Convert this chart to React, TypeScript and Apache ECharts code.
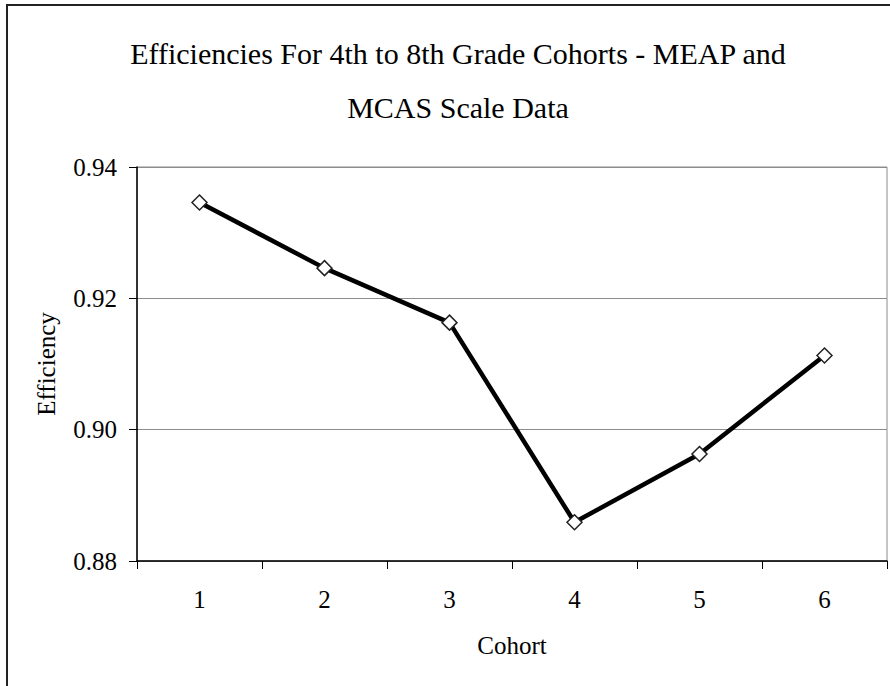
import React, { useEffect, useRef } from "react";
import * as echarts from "echarts";

const titleLines = ["Efficiencies For 4th to 8th Grade Cohorts - MEAP and", "MCAS Scale Data"];
const cohorts = ["1", "2", "3", "4", "5", "6"];
const efficiency = [0.9346, 0.9246, 0.9163, 0.8859, 0.8963, 0.9113];
const yMin = 0.88;
const yMax = 0.94;
const yInterval = 0.02;

const FONT = "'Liberation Serif', 'Times New Roman', serif";

export default function App() {
  const ref = useRef<HTMLDivElement>(null);
  useEffect(() => {
    document.body.style.margin = "0";
    if (!ref.current) return;
    const chart = echarts.init(ref.current, null, { renderer: "svg" });
    chart.setOption({
      animation: false,
      backgroundColor: "#ffffff",
      title: {
        text: titleLines.join("\n"),
        left: 453,
        top: 21,
        textAlign: "center",
        textStyle: {
          fontFamily: FONT,
          fontWeight: "normal",
          fontSize: 30,
          color: "#000",
          lineHeight: 54,
        },
      },
      graphic: [
        {
          type: "rect",
          shape: { x: 7, y: 5, width: 900, height: 700 },
          style: { fill: "none", stroke: "#222", lineWidth: 2 },
          silent: true,
        },
      ],
      grid: {
        left: 137,
        right: 3,
        top: 167,
        bottom: 125,
        show: true,
        borderColor: "#8c8c8c",
        borderWidth: 1,
        backgroundColor: "transparent",
      },
      xAxis: {
        type: "category",
        data: cohorts,
        boundaryGap: true,
        name: "Cohort",
        nameLocation: "middle",
        nameGap: 72,
        nameTextStyle: { fontFamily: FONT, fontSize: 25, color: "#000" },
        axisLine: { show: true, lineStyle: { color: "#000", width: 1.5 } },
        axisTick: { show: true, length: 8, lineStyle: { color: "#000" } },
        axisLabel: { fontFamily: FONT, fontSize: 25, color: "#000", margin: 26 },
        splitLine: { show: false },
      },
      yAxis: {
        type: "value",
        min: yMin,
        max: yMax,
        interval: yInterval,
        name: "Efficiency",
        nameLocation: "middle",
        nameGap: 78,
        nameTextStyle: { fontFamily: FONT, fontSize: 25, color: "#000" },
        axisLine: { show: true, lineStyle: { color: "#000", width: 1.5 } },
        axisTick: { show: true, length: 8, lineStyle: { color: "#000" } },
        axisLabel: {
          fontFamily: FONT,
          fontSize: 25,
          color: "#000",
          margin: 20,
          formatter: (v: number) => v.toFixed(2),
        },
        splitLine: { show: true, lineStyle: { color: "#8c8c8c", width: 1 } },
      },
      series: [
        {
          type: "line",
          data: efficiency,
          symbol: "diamond",
          symbolSize: 15,
          showSymbol: true,
          lineStyle: { color: "#000", width: 4.5 },
          itemStyle: { color: "#fff", borderColor: "#222", borderWidth: 1.5 },
          z: 3,
        },
      ],
    });
    return () => chart.dispose();
  }, []);
  return <div ref={ref} style={{ width: 890, height: 686 }} />;
}
